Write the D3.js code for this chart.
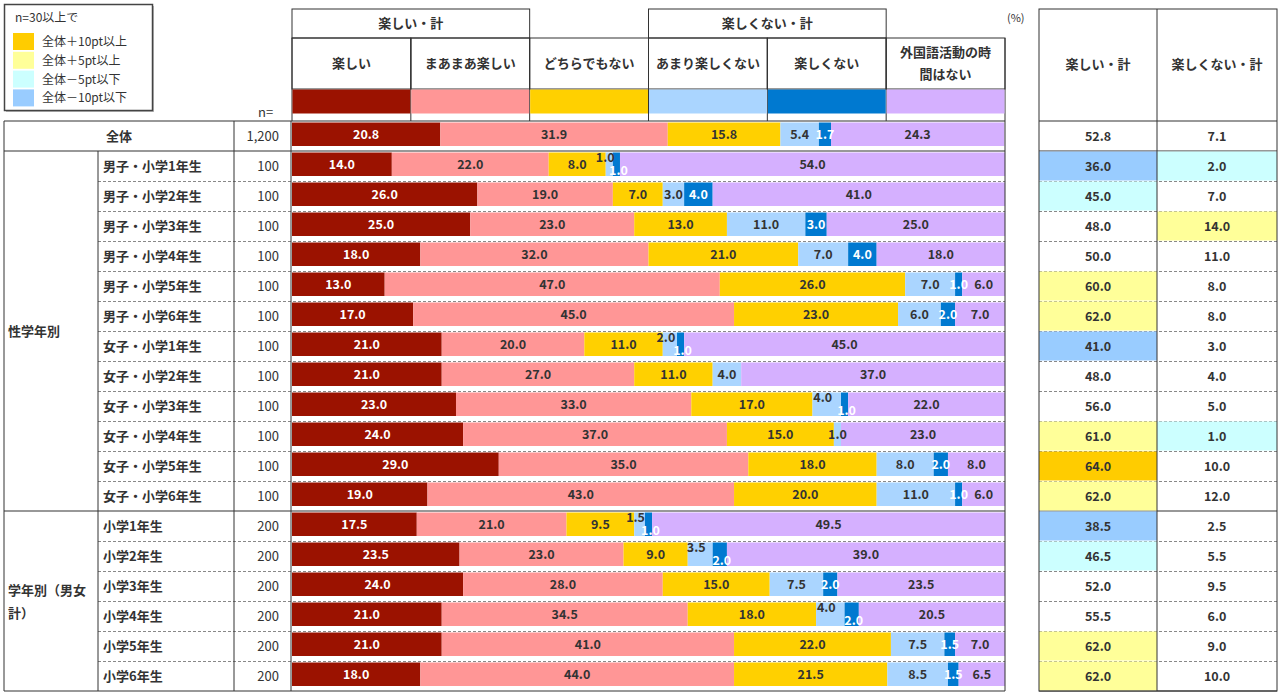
<html>
<head>
<meta charset="utf-8">
<title>外国語活動は楽しいか</title>
<script src="https://cdn.jsdelivr.net/npm/d3@7"></script>
<style>
  body { margin: 0; background: #fff; font-family: "Noto Sans CJK JP", "Noto Sans", sans-serif; }
  text { fill: #333; }
  .hd { font-size: 13px; font-weight: bold; }
  .lg { font-size: 12px; }
  .val { font-size: 12.5px; font-weight: bold; }
</style>
</head>
<body>
<script>
// categories and colours
var categories = ["楽しい", "まあまあ楽しい", "どちらでもない", "あまり楽しくない", "楽しくない", "外国語活動の時間はない"];
var catColors = ["#9b1200", "#ff9696", "#ffd000", "#aad5ff", "#0079d0", "#d5b0ff"];

// rows
var rowLabels = ["全体",
  "男子・小学1年生", "男子・小学2年生", "男子・小学3年生", "男子・小学4年生", "男子・小学5年生", "男子・小学6年生",
  "女子・小学1年生", "女子・小学2年生", "女子・小学3年生", "女子・小学4年生", "女子・小学5年生", "女子・小学6年生",
  "小学1年生", "小学2年生", "小学3年生", "小学4年生", "小学5年生", "小学6年生"];
var nValues = ["1,200", "100", "100", "100", "100", "100", "100", "100", "100", "100", "100", "100", "100",
  "200", "200", "200", "200", "200", "200"];

// series (%), one array per answer
var tanoshii      = [20.8, 14.0, 26.0, 25.0, 18.0, 13.0, 17.0, 21.0, 21.0, 23.0, 24.0, 29.0, 19.0, 17.5, 23.5, 24.0, 21.0, 21.0, 18.0];
var maamaa        = [31.9, 22.0, 19.0, 23.0, 32.0, 47.0, 45.0, 20.0, 27.0, 33.0, 37.0, 35.0, 43.0, 21.0, 23.0, 28.0, 34.5, 41.0, 44.0];
var dochira       = [15.8,  8.0,  7.0, 13.0, 21.0, 26.0, 23.0, 11.0, 11.0, 17.0, 15.0, 18.0, 20.0,  9.5,  9.0, 15.0, 18.0, 22.0, 21.5];
var amari         = [ 5.4,  1.0,  3.0, 11.0,  7.0,  7.0,  6.0,  2.0,  4.0,  4.0,  1.0,  8.0, 11.0,  1.5,  3.5,  7.5,  4.0,  7.5,  8.5];
var tanoshikunai  = [ 1.7,  1.0,  4.0,  3.0,  4.0,  1.0,  2.0,  1.0,  0.0,  1.0,  0.0,  2.0,  1.0,  1.0,  2.0,  2.0,  2.0,  1.5,  1.5];
var nai           = [24.3, 54.0, 41.0, 25.0, 18.0,  6.0,  7.0, 45.0, 37.0, 22.0, 23.0,  8.0,  6.0, 49.5, 39.0, 23.5, 20.5,  7.0,  6.5];

// summary columns
var tanoshiiTotal     = [52.8, 36.0, 45.0, 48.0, 50.0, 60.0, 62.0, 41.0, 48.0, 56.0, 61.0, 64.0, 62.0, 38.5, 46.5, 52.0, 55.5, 62.0, 62.0];
var tanoshikunaiTotal = [ 7.1,  2.0,  7.0, 14.0, 11.0,  8.0,  8.0,  3.0,  4.0,  5.0,  1.0, 10.0, 12.0,  2.5,  5.5,  9.5,  6.0,  9.0, 10.0];

var legendItems = ["全体＋10pt以上", "全体＋5pt以上", "全体－5pt以下", "全体－10pt以下"];
var legendColors = ["#ffcc00", "#ffff99", "#ccffff", "#99ccff"];

var series = [tanoshii, maamaa, dochira, amari, tanoshikunai, nai];
var rows = rowLabels.map(function(l, i) {
  var o = { label: l, n: nValues[i], idx: i };
  categories.forEach(function(c, k) { o[c] = series[k][i]; });
  return o;
});

var width = 1281, height = 696;
var svg = d3.select("body").append("svg").attr("width", width).attr("height", height);

var x = d3.scaleLinear().domain([0, 100]).range([292, 1005]);
var y = d3.scaleBand().domain(d3.range(rows.length)).range([121, 691]);
var col = d3.scaleBand().domain(categories).range([292, 1005]);

var line = "#333";

// ---------- legend ----------
var lg = svg.append("g");
lg.append("rect").attr("x", 6).attr("y", 6).attr("width", 148).attr("height", 106).attr("fill", "#bbb");
lg.append("rect").attr("x", 4.5).attr("y", 4.5).attr("width", 148).attr("height", 106)
  .attr("fill", "#fff").attr("stroke", "#444").attr("stroke-width", 1.5);
lg.append("text").attr("class", "lg").attr("x", 15).attr("y", 22).text("n=30以上で");
legendItems.forEach(function(t, i) {
  var yy = 33 + i * 18.8;
  lg.append("rect").attr("x", 13).attr("y", yy).attr("width", 21).attr("height", 17).attr("fill", legendColors[i]);
  lg.append("text").attr("class", "lg").attr("x", 42).attr("y", yy + 13).text(t);
});

// ---------- bar header ----------
var hd = svg.append("g");
[[0, 1, "楽しい・計"], [3, 4, "楽しくない・計"]].forEach(function(g) {
  var x0 = col(categories[g[0]]), x1 = col(categories[g[1]]) + col.bandwidth();
  hd.append("rect").attr("x", x0).attr("y", 9).attr("width", x1 - x0).attr("height", 29)
    .attr("fill", "none").attr("stroke", line);
  hd.append("text").attr("class", "hd").attr("x", (x0 + x1) / 2).attr("y", 28)
    .attr("text-anchor", "middle").text(g[2]);
});
categories.forEach(function(c, k) {
  hd.append("line").attr("x1", col(c)).attr("x2", col(c)).attr("y1", 38).attr("y2", 121).attr("stroke", line);
  hd.append("rect").attr("x", col(c)).attr("y", 38).attr("width", col.bandwidth()).attr("height", 51)
    .attr("fill", "none").attr("stroke", line);
  var lines = c === "外国語活動の時間はない" ? ["外国語活動の時", "間はない"] : [c];
  lines.forEach(function(t, j) {
    hd.append("text").attr("class", "hd").attr("x", col(c) + col.bandwidth() / 2)
      .attr("y", 68 - (lines.length - 1) * 11 + j * 22).attr("text-anchor", "middle").text(t);
  });
});
hd.append("line").attr("x1", 1005).attr("x2", 1005).attr("y1", 38).attr("y2", 121).attr("stroke", line);
hd.selectAll("rect.sw").data(categories).enter().append("rect").attr("class", "sw")
  .attr("x", function(c) { return col(c) + 0.5; }).attr("y", 89.5)
  .attr("width", col.bandwidth() - 1).attr("height", 24)
  .attr("fill", function(c, k) { return catColors[k]; });
svg.append("text").attr("x", 1007).attr("y", 22).attr("font-size", 11).text("(%)");
svg.append("text").attr("class", "hd").attr("x", 258).attr("y", 117).style("font-weight", "normal").text("n=");

// ---------- bars ----------
var stack = d3.stack().keys(categories)(rows);
var bars = svg.append("g");
stack.forEach(function(layer, k) {
  bars.append("g").selectAll("rect").data(layer).enter().append("rect")
    .attr("x", function(d) { return x(d[0]); })
    .attr("y", function(d, i) { return y(i) + 1.5; })
    .attr("width", function(d) { return x(d[1]) - x(d[0]); })
    .attr("height", y.bandwidth() - 6.5)
    .attr("fill", catColors[k]);
});

// ---------- row grid ----------
var grid = svg.append("g");
rows.forEach(function(r, i) {
  if (i < 2 || i === 13) return;
  var yy = y(i) + 0.5;
  [[98, 1005], [1039, 1277]].forEach(function(s) {
    grid.append("line").attr("x1", s[0]).attr("x2", s[1]).attr("y1", yy).attr("y2", yy)
      .attr("stroke", "#888").attr("stroke-dasharray", "3,2");
  });
});
[y(0), y(1), y(13), 691].forEach(function(yy) {
  [[4, 1005], [1039, 1277]].forEach(function(s) {
    grid.append("line").attr("x1", s[0]).attr("x2", s[1]).attr("y1", yy).attr("y2", yy)
      .attr("stroke", line).attr("stroke-width", 1.2);
  });
});
[[4, y(0)], [98, y(1)], [234, y(0)], [291, y(0)], [1005, y(0)]].forEach(function(v) {
  grid.append("line").attr("x1", v[0]).attr("x2", v[0]).attr("y1", v[1]).attr("y2", 691).attr("stroke", line);
});

// ---------- value labels ----------
stack.forEach(function(layer, k) {
  svg.append("g").selectAll("text").data(layer.filter(function(d) { return d[1] - d[0] > 0; }))
    .enter().append("text").attr("class", "val")
    .attr("x", function(d) {
      var i = d.data.idx, xc = (x(d[0]) + x(d[1])) / 2;
      var crowded = amari[i] > 0 && tanoshikunai[i] > 0 && amari[i] + tanoshikunai[i] < 7;
      if (crowded && k === 3) return xc - 4;
      if (crowded && k === 4) return xc + 2;
      return xc;
    })
    .attr("y", function(d) {
      var i = d.data.idx, yc = y(i) + 1.5 + (y.bandwidth() - 6.5) / 2 + 4.5;
      var crowded = amari[i] > 0 && tanoshikunai[i] > 0 && amari[i] + tanoshikunai[i] < 7;
      if (crowded && k === 3) return yc - 7;
      if (crowded && k === 4) return yc + 6;
      return yc;
    })
    .attr("text-anchor", "middle")
    .style("fill", (k === 0 || k === 4) ? "#fff" : "#333")
    .text(function(d) { return (d[1] - d[0]).toFixed(1); });
});

// ---------- row labels ----------
var lab = svg.append("g");
rows.forEach(function(r, i) {
  var yc = y(i) + y.bandwidth() / 2 + 5;
  if (i === 0) {
    lab.append("text").attr("class", "hd").attr("x", 119).attr("y", yc).attr("text-anchor", "middle").text(r.label);
  } else {
    lab.append("text").attr("class", "hd").attr("x", 103).attr("y", yc).text(r.label);
  }
  lab.append("text").attr("class", "hd").attr("x", 279).attr("y", yc).attr("text-anchor", "end")
    .style("font-weight", "normal").text(r.n);
});
lab.append("text").attr("class", "hd").attr("x", 8).attr("y", (y(1) + y(13)) / 2 + 5).text("性学年別");
lab.append("text").attr("class", "hd").attr("x", 8).attr("y", (y(13) + 691) / 2 - 6).text("学年別（男女");
lab.append("text").attr("class", "hd").attr("x", 8).attr("y", (y(13) + 691) / 2 + 17).text("計）");

// ---------- summary table ----------
var tb = svg.append("g");
function hl(v, base) {
  var d = v - base;
  if (d >= 10) return legendColors[0];
  if (d >= 5) return legendColors[1];
  if (d <= -10) return legendColors[3];
  if (d <= -5) return legendColors[2];
  return "none";
}
var tcols = [[1039, 1157, tanoshiiTotal, "楽しい・計"], [1157, 1277, tanoshikunaiTotal, "楽しくない・計"]];
tcols.forEach(function(c) {
  var vals = c[2];
  tb.selectAll(null).data(vals).enter().append("rect")
    .attr("x", c[0]).attr("y", function(d, i) { return y(i) + 0.5; })
    .attr("width", c[1] - c[0]).attr("height", y.bandwidth() - 1)
    .attr("fill", function(d, i) { return i === 0 ? "none" : hl(d, vals[0]); });
  tb.selectAll(null).data(vals).enter().append("text").attr("class", "val")
    .attr("x", (c[0] + c[1]) / 2).attr("y", function(d, i) { return y(i) + y.bandwidth() / 2 + 5; })
    .attr("text-anchor", "middle").text(function(d) { return d.toFixed(1); });
  tb.append("text").attr("class", "hd").attr("x", (c[0] + c[1]) / 2).attr("y", 69)
    .attr("text-anchor", "middle").text(c[3]);
});
tb.append("rect").attr("x", 1039).attr("y", 9).attr("width", 238).attr("height", 682)
  .attr("fill", "none").attr("stroke", line);
tb.append("line").attr("x1", 1157).attr("x2", 1157).attr("y1", 9).attr("y2", 691).attr("stroke", line);
</script>
</body>
</html>
